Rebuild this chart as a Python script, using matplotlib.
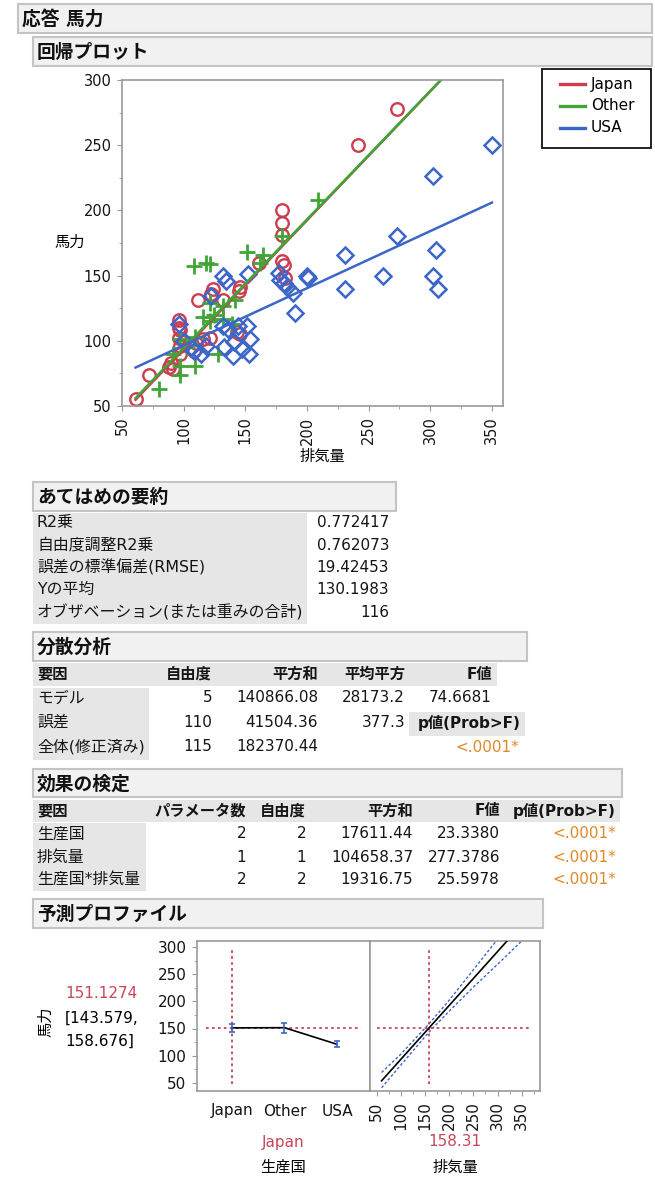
"""
JMP-style report: 馬力 regressed on 排気量 by 生産国, redrawn in matplotlib.
Layout is laid out in pixel units on a 655x1188 canvas.
"""
import numpy as np
import matplotlib
matplotlib.use("Agg")
import matplotlib.pyplot as plt
from matplotlib.patches import Rectangle
from matplotlib.ticker import MultipleLocator

plt.rcParams['font.family'] = ['DejaVu Sans', 'Noto Sans CJK JP']

W, H = 655, 1188
RED = '#CC3D50'
GREEN = '#3FA535'
BLUE = '#3D66C9'
ORANGE = '#E0892A'
PRED = '#C8465A'

# --- scatter data --------------------------------------------------------
japan_x = [61, 72, 88, 90, 91, 97, 97, 96, 97, 96, 96, 108, 110, 112, 116, 121,
           122, 124, 132, 143, 146, 145, 146, 161, 180, 180, 180, 180, 181, 182, 241, 273]
japan_y = [55, 74, 80, 83, 78, 90, 96, 102, 108, 110, 116, 92, 98, 131, 101, 102,
           136, 140, 131, 107, 105, 138, 141, 160, 200, 190, 181, 161, 158, 148, 250, 278]
other_x = [80, 97, 97, 109, 91, 97, 103, 109, 108, 118, 121, 121, 116, 121, 125,
           132, 142, 132, 139, 128, 151, 164, 162, 180, 209]
other_y = [63, 74, 81, 81, 90, 101, 95, 103, 157, 160, 159, 129, 118, 115, 120,
           127, 131, 117, 113, 90, 168, 166, 160, 180, 208]
usa_x = [96, 100, 106, 108, 114, 118, 122, 132, 134, 132, 133, 140, 141, 147, 151,
         154, 153, 152, 136, 144, 177, 178, 181, 184, 189, 190, 200, 201, 231, 231,
         262, 273, 302, 305, 302, 306, 350]
usa_y = [113, 100, 95, 92, 90, 96, 134, 150, 146, 111, 95, 88, 99, 94, 111,
         101, 90, 151, 109, 111, 152, 147, 144, 141, 137, 121, 150, 148, 166, 140,
         150, 180, 226, 170, 150, 140, 250]

# fitted lines per group: (intercept, slope), drawn over the displacement range
fit_x = np.array([61, 350])
fit_japan = (-5.6, 0.990)
fit_other = (-4.0, 0.985)
fit_usa = (52.8, 0.4377)

groups = ['Japan', 'Other', 'USA']

# --- tables ---------------------------------------------------------------
fit_labels = ['R2乗', '自由度調整R2乗', '誤差の標準偏差(RMSE)', 'Yの平均',
              'オブザベーション(または重みの合計)']
fit_values = ['0.772417', '0.762073', '19.42453', '130.1983', '116']

anova_head = ['要因', '自由度', '平方和', '平均平方', 'F値']
anova_src = ['モデル', '誤差', '全体(修正済み)']
anova_df = ['5', '110', '115']
anova_ss = ['140866.08', '41504.36', '182370.44']
anova_ms = ['28173.2', '377.3', '']
anova_f = ['74.6681', '', '']
anova_p = '<.0001*'

eff_head = ['要因', 'パラメータ数', '自由度', '平方和', 'F値', 'p値(Prob>F)']
eff_src = ['生産国', '排気量', '生産国*排気量']
eff_nparm = ['2', '1', '2']
eff_df = ['2', '1', '2']
eff_ss = ['17611.44', '104658.37', '19316.75']
eff_f = ['23.3380', '277.3786', '25.5978']
eff_p = ['<.0001*', '<.0001*', '<.0001*']

# --- prediction profiler --------------------------------------------------
prof_pred = '151.1274'
prof_ci = ['[143.579,', '158.676]']
prof_level_y = [151.13, 151.5, 121.0]
prof_level_lo = [143.58, 141.5, 115.5]
prof_level_hi = [158.68, 161.0, 126.5]
prof_disp_now = 158.31
prof_line_x = [60, 350]
prof_line_y = [53.8, 341.0]
band_x = [60, 100, 158.31, 200, 250, 300, 350]
band_hi = [69, 103, 158.7, 202, 258, 314, 371]
band_lo = [41, 83, 143.6, 182, 226, 268, 311]

# --- canvas ---------------------------------------------------------------
fig = plt.figure(figsize=(W / 100, H / 100), dpi=100)
ov = fig.add_axes([0, 0, 1, 1])
ov.set_xlim(0, W)
ov.set_ylim(H, 0)
ov.axis('off')


def px_axes(x0, y0, x1, y1):
    return fig.add_axes([x0 / W, 1 - y1 / H, (x1 - x0) / W, (y1 - y0) / H])


def title_box(x0, y0, x1, y1, text):
    ov.add_patch(Rectangle((x0, y0), x1 - x0, y1 - y0, fc='#f1f1f1', ec='#c4c4c4', lw=1.5))
    ov.text(x0 + 4, (y0 + y1) / 2 + 1, text, fontsize=13.5, fontweight='bold',
            va='center', ha='left', color='#111111')


def gray(x0, y0, x1, y1):
    ov.add_patch(Rectangle((x0, y0), x1 - x0, y1 - y0, fc='#e6e6e6', ec='none'))


def cell(x, y, s, ha='right', bold=False, color='#151515', size=11):
    ov.text(x, y, s, fontsize=size, ha=ha, va='center', color=color,
            fontweight='bold' if bold else 'normal')


def style_axis(a, labelsize=11):
    for sp in a.spines.values():
        sp.set_color('#9a9a9a')
        sp.set_linewidth(1.2)
    a.tick_params(which='both', direction='out', color='#9a9a9a', labelsize=labelsize,
                  labelcolor='#151515', pad=4)
    a.tick_params(which='major', length=3.5)
    a.tick_params(which='minor', length=2)


title_box(18, 4, 652, 33, '応答 馬力')
title_box(33, 37, 652, 66, '回帰プロット')

# --- regression plot ------------------------------------------------------
ax = px_axes(122, 80, 503, 406)
ax.plot(japan_x, japan_y, 'o', ms=9, mfc='none', mec=RED, mew=1.7, ls='none')
ax.plot(other_x, other_y, '+', ms=11, mec=GREEN, mew=2.0, ls='none')
ax.plot(usa_x, usa_y, 'D', ms=8, mfc='none', mec=BLUE, mew=1.8, ls='none')
for (b, m), c in zip([fit_japan, fit_other, fit_usa], [RED, GREEN, BLUE]):
    ax.plot(fit_x, b + m * fit_x, color=c, lw=1.8)
ax.set_xlim(50, 359)
ax.set_ylim(50, 300)
ax.set_xticks(range(50, 351, 50))
ax.set_yticks(range(50, 301, 50))
ax.xaxis.set_minor_locator(MultipleLocator(25))
ax.yaxis.set_minor_locator(MultipleLocator(25))
style_axis(ax, labelsize=10.5)
ax.tick_params(axis='x', labelrotation=90)
ov.text(70, 242, '馬力', fontsize=11, ha='center', va='center')
ov.text(322, 456, '排気量', fontsize=11, ha='center', va='center')

# legend
ov.add_patch(Rectangle((542, 69), 109, 79, fc='white', ec='#111111', lw=1.3))
for i, (g, c) in enumerate(zip(groups, [RED, GREEN, BLUE])):
    yy = 84 + i * 21.8
    ov.plot([560, 585], [yy, yy], color=c, lw=2.4)
    ov.text(591, yy, g, fontsize=11, va='center', ha='left')

# --- fit summary ----------------------------------------------------------
title_box(33, 482, 396, 511, 'あてはめの要約')
gray(33, 513, 307, 624)
for i, (lab, val) in enumerate(zip(fit_labels, fit_values)):
    yy = 522.7 + i * 22.4
    cell(37, yy, lab, ha='left', size=11.4)
    cell(389, yy, val)

# --- ANOVA ----------------------------------------------------------------
title_box(33, 632, 527, 661, '分散分析')
gray(33, 663, 497, 686)
cell(37, 674, anova_head[0], ha='left', bold=True)
for x, h in zip([212, 318, 405, 492], anova_head[1:]):
    cell(x, 674, h, bold=True)
gray(33, 688, 149, 760)
for i in range(3):
    yy = 698 + i * 24.4
    cell(37, yy, anova_src[i], ha='left', size=11.4)
    cell(212, yy, anova_df[i])
    cell(318, yy, anova_ss[i])
    cell(405, yy, anova_ms[i])
    cell(492, yy, anova_f[i])
gray(409, 712, 525, 736)
cell(521, 723, 'p値(Prob>F)', bold=True)
cell(519, 747, anova_p, color=ORANGE)

# --- effect tests ---------------------------------------------------------
title_box(33, 769, 622, 797, '効果の検定')
gray(33, 800, 620, 822)
cell(37, 811, eff_head[0], ha='left', bold=True)
eff_cols = [246, 306, 413, 500, 616]
for x, h in zip(eff_cols, eff_head[1:]):
    cell(x, 811, h, bold=True)
gray(33, 823, 146, 891)
for i in range(3):
    yy = 834 + i * 23
    cell(37, yy, eff_src[i], ha='left', size=11.4)
    for x, v in zip(eff_cols[:4], [eff_nparm[i], eff_df[i], eff_ss[i], eff_f[i]]):
        cell(x, yy, v)
    cell(eff_cols[4], yy, eff_p[i], color=ORANGE)

# --- prediction profiler --------------------------------------------------
title_box(33, 899, 543, 928, '予測プロファイル')
ylim_prof = (35, 311)

axl = px_axes(197, 941, 370, 1091)
lev = np.arange(len(groups))
axl.plot(lev, prof_level_y, color='black', lw=1.2, zorder=3)
axl.errorbar(lev, prof_level_y,
             yerr=[np.subtract(prof_level_y, prof_level_lo), np.subtract(prof_level_hi, prof_level_y)],
             fmt='none', ecolor=BLUE, elinewidth=1.2, capsize=2.5, capthick=1.2, zorder=4)
axl.axhline(float(prof_pred), xmin=0.05, xmax=0.95, color=PRED, ls=(0, (1.5, 1.8)), lw=1.3)
axl.axvline(0, ymin=0.05, ymax=0.94, color=PRED, ls=(0, (1.5, 1.8)), lw=1.3)
axl.set_xlim(-0.667, 2.63)
axl.set_ylim(*ylim_prof)
axl.set_xticks(lev)
axl.set_xticklabels(groups)
axl.set_yticks(range(50, 301, 50))
axl.yaxis.set_minor_locator(MultipleLocator(25))
style_axis(axl)
axl.tick_params(axis='x', length=0, pad=9)

axr = px_axes(370, 941, 540, 1091)
axr.plot(prof_line_x, prof_line_y, color='black', lw=1.2, zorder=3)
axr.plot(band_x, band_hi, color=BLUE, lw=1.0, ls=(0, (2, 1.5)))
axr.plot(band_x, band_lo, color=BLUE, lw=1.0, ls=(0, (2, 1.5)))
axr.axhline(float(prof_pred), xmin=0.04, xmax=0.95, color=PRED, ls=(0, (1.5, 1.8)), lw=1.3)
axr.axvline(prof_disp_now, ymin=0.05, ymax=0.94, color=PRED, ls=(0, (1.5, 1.8)), lw=1.3)
axr.set_xlim(36, 388)
axr.set_ylim(*ylim_prof)
axr.set_xticks(range(50, 351, 50))
axr.xaxis.set_minor_locator(MultipleLocator(25))
axr.set_yticks([])
style_axis(axr)
axr.tick_params(axis='x', labelrotation=90)

ov.text(46, 1022, '馬力', fontsize=11, rotation=90, ha='center', va='center')
ov.text(65, 994, prof_pred, fontsize=11, color=PRED, ha='left', va='center')
ov.text(65, 1018, prof_ci[0], fontsize=11, ha='left', va='center')
ov.text(65, 1041, prof_ci[1], fontsize=11, ha='left', va='center')
ov.text(283, 1142, groups[0], fontsize=11, color=PRED, ha='center', va='center')
ov.text(283, 1167, '生産国', fontsize=11, ha='center', va='center')
ov.text(455, 1142, f'{prof_disp_now:.2f}', fontsize=11, color=PRED, ha='center', va='center')
ov.text(455, 1167, '排気量', fontsize=11, ha='center', va='center')

fig.savefig('out.png', dpi=100)
